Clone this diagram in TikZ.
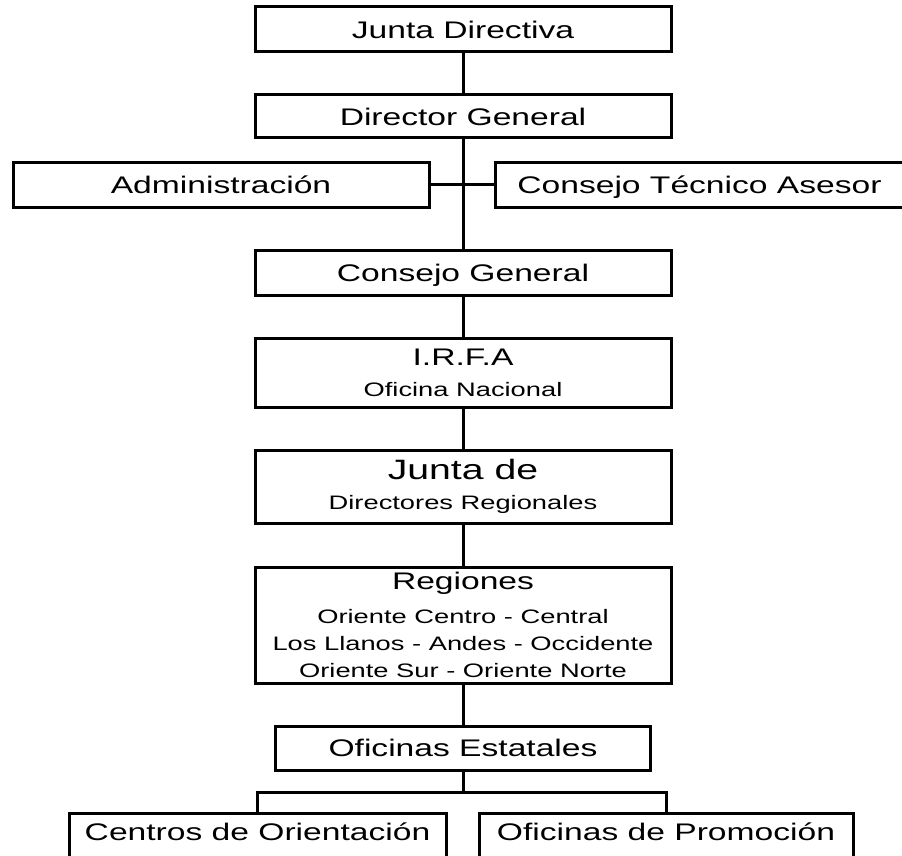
\documentclass[tikz,border=0pt]{standalone}
\usepackage{fontspec}
\setmainfont[FakeStretch=1.4]{Liberation Sans}
\newcommand{\mainsize}{\fontsize{24}{27}\selectfont}
\newcommand{\subsize}{\fontsize{19.5}{22}\selectfont}
\newcommand{\headsize}{\fontsize{28}{31}\selectfont}
\tikzset{
  unit/.style={draw, line width=3pt, inner sep=0pt, outer sep=0pt,
    font=\mainsize, align=center},
  onebox/.style={unit, text height=17.5pt, text depth=0pt},
  lowbox/.style={unit, anchor=north, text height=27pt, text depth=22pt},
  wire/.style={line width=3pt},
}

\begin{document}
\begin{tikzpicture}[x=1pt, y=-1pt]
  \useasboundingbox (0,0) rectangle (902,856);

  % main line of boxes
  \node [onebox, minimum width=416pt, minimum height=45pt] (jd) at (463,29.5) {Junta Directiva};
  \node [onebox, minimum width=416pt, minimum height=43pt] (dg) at (463,116.5) {Director General};
  \node [onebox, minimum width=416pt, minimum height=45pt] (adm) at (221,184.5) {Administración};
  \node [onebox, minimum width=409pt, minimum height=45pt] (cta) at (699.5,184.5) {Consejo Técnico Asesor};
  \node [onebox, minimum width=416pt, minimum height=45pt] (cg) at (463,272.5) {Consejo General};
  \node [unit, minimum width=416pt, minimum height=69pt] (irfa) at (463,372.5)
    {I.R.F.A\\[4pt]\subsize Oficina Nacional};
  \node [unit, minimum width=416pt, minimum height=73pt] (jdr) at (463,486.5)
    {\headsize Junta de\\[3pt]\subsize Directores Regionales};
  \node [unit, minimum width=416pt, minimum height=116pt] (reg) at (463,625)
    {Regiones\\[7pt]\subsize Oriente Centro - Central\\
     \subsize Los Llanos - Andes - Occidente\\\subsize Oriente Sur - Oriente Norte};
  \node [onebox, minimum width=375pt, minimum height=44pt] (est) at (463,748) {Oficinas Estatales};

  % lower boxes, cut by the page edge
  \node [lowbox, minimum width=377pt] (cen) at (257.5,813) {Centros de Orientación};
  \node [lowbox, minimum width=374pt] (pro) at (666,813) {Oficinas de Promoción};

  % connectors
  \coordinate (fork) at (463,792);
  \draw [wire] (jd) -- (dg);
  \draw [wire] (dg) -- (cg);
  \draw [wire] (adm) -- (cta);
  \draw [wire] (cg) -- (irfa);
  \draw [wire] (irfa) -- (jdr);
  \draw [wire] (jdr) -- (reg);
  \draw [wire] (reg) -- (est);
  \draw [wire] (est) -- (fork);
  \draw [wire] (cen.north) |- (fork) -| (pro.north);
\end{tikzpicture}
\end{document}
